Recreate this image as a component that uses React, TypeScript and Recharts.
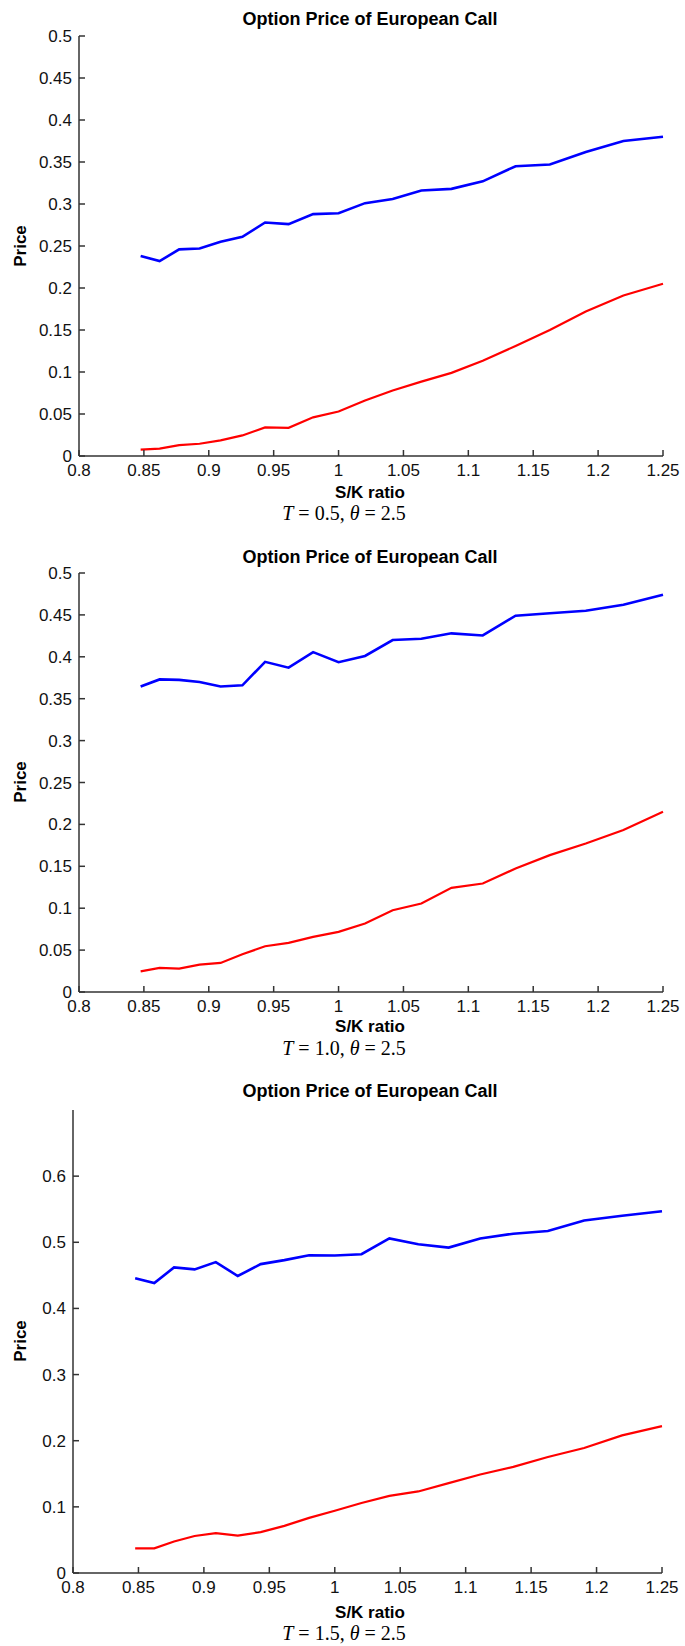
import { LineChart, Line, XAxis, YAxis } from 'recharts'

// S/K ratios (S = 100, K = 118 ... 80)
const skRatio = [
  0.8475, 0.8621, 0.8772, 0.8929, 0.9091, 0.9259, 0.9434, 0.9615, 0.9804, 1.0,
  1.0204, 1.0417, 1.0638, 1.087, 1.1111, 1.1364, 1.1628, 1.1905, 1.2195, 1.25,
]

const xTicks = [0.8, 0.85, 0.9, 0.95, 1, 1.05, 1.1, 1.15, 1.2, 1.25]
const yTicksHalf = [0, 0.05, 0.1, 0.15, 0.2, 0.25, 0.3, 0.35, 0.4, 0.45, 0.5]
const yTicksTenth = [0, 0.1, 0.2, 0.3, 0.4, 0.5, 0.6]

// T = 0.5
const blueT05 = [
  0.238, 0.232, 0.246, 0.247, 0.255, 0.261, 0.278, 0.276, 0.288, 0.289,
  0.301, 0.306, 0.316, 0.318, 0.327, 0.345, 0.347, 0.362, 0.375, 0.38,
]
const redT05 = [
  0.0075, 0.0087, 0.013, 0.0146, 0.0186, 0.0245, 0.034, 0.0336, 0.046, 0.053,
  0.066, 0.078, 0.0886, 0.099, 0.1135, 0.131, 0.15, 0.172, 0.191, 0.205,
]

// T = 1.0
const blueT10 = [
  0.3645, 0.373, 0.3725, 0.37, 0.3645, 0.366, 0.394, 0.387, 0.4056, 0.3936,
  0.401, 0.42, 0.4215, 0.428, 0.4255, 0.449, 0.452, 0.455, 0.462, 0.474,
]
const redT10 = [
  0.0247, 0.0287, 0.0279, 0.0327, 0.0347, 0.045, 0.0546, 0.0586, 0.0657, 0.0717,
  0.0817, 0.0976, 0.1056, 0.1243, 0.1295, 0.1474, 0.1633, 0.1773, 0.1932, 0.2151,
]

// T = 1.5
const blueT15 = [
  0.4455, 0.4384, 0.462, 0.459, 0.47, 0.449, 0.467, 0.473, 0.4805, 0.48,
  0.482, 0.5058, 0.497, 0.492, 0.5058, 0.513, 0.517, 0.533, 0.54, 0.547,
]
const redT15 = [
  0.0373, 0.0373, 0.0477, 0.0559, 0.0603, 0.0564, 0.0619, 0.0712, 0.0833, 0.0942,
  0.1058, 0.1167, 0.1233, 0.1359, 0.149, 0.1605, 0.1753, 0.189, 0.208, 0.222,
]

const AXIS = '#333333'
const SANS = '"Liberation Sans", Arial, sans-serif'
const SERIF = '"Liberation Serif", "Times New Roman", serif'

const XTick = (props: any) => {
  const { x, y, payload } = props
  return (
    <g>
      <line x1={x} y1={y} x2={x} y2={y - 6} stroke={AXIS} strokeWidth={1.5} />
      <text x={x} y={y + 20} textAnchor="middle" fontFamily={SANS} fontSize={17} fill="#111">
        {payload.value}
      </text>
    </g>
  )
}

const YTick = (props: any) => {
  const { x, y, payload } = props
  return (
    <g>
      <line x1={x} y1={y} x2={x + 6} y2={y} stroke={AXIS} strokeWidth={1.5} />
      <text x={x - 7} y={y + 6} textAnchor="end" fontFamily={SANS} fontSize={17} fill="#111">
        {payload.value}
      </text>
    </g>
  )
}

interface PanelProps {
  top: number
  height: number
  plotTop: number
  plotBottom: number
  plotLeft: number
  plotRight: number
  yMax: number
  yTicks: number[]
  blue: number[]
  red: number[]
}

function Panel({ top, height, plotTop, plotBottom, plotLeft, plotRight, yMax, yTicks, blue, red }: PanelProps) {
  const data = skRatio.map((sk, i) => ({ sk, blue: blue[i], red: red[i] }))
  const xh = 30
  return (
    <div style={{ position: 'absolute', left: 0, top, width: 685, height }}>
      <LineChart
        width={685}
        height={height}
        data={data}
        margin={{ top: plotTop, right: 685 - plotRight, left: 0, bottom: height - plotBottom - xh }}
      >
        <XAxis
          dataKey="sk"
          type="number"
          domain={[0.8, 1.25]}
          ticks={xTicks}
          interval={0}
          height={xh}
          tickSize={0}
          tickMargin={0}
          tickLine={false}
          tick={<XTick />}
          axisLine={{ stroke: AXIS, strokeWidth: 1.5 }}
        />
        <YAxis
          type="number"
          domain={[0, yMax]}
          ticks={yTicks}
          interval={0}
          width={plotLeft}
          tickSize={0}
          tickMargin={0}
          tickLine={false}
          tick={<YTick />}
          axisLine={{ stroke: AXIS, strokeWidth: 1.5 }}
        />
        <Line type="linear" dataKey="blue" stroke="#0000ff" strokeWidth={2.6} dot={false} isAnimationActive={false} />
        <Line type="linear" dataKey="red" stroke="#ff0000" strokeWidth={2.2} dot={false} isAnimationActive={false} />
      </LineChart>
    </div>
  )
}

interface TextsProps {
  titleY: number
  priceY: number
  xLabelY: number
  captionY: number
  tValue: string
}

function Texts({ titleY, priceY, xLabelY, captionY, tValue }: TextsProps) {
  return (
    <g>
      <text x={370} y={titleY} textAnchor="middle" fontFamily={SANS} fontWeight="bold" fontSize={18} fill="#000">
        Option Price of European Call
      </text>
      <text
        x={26}
        y={priceY}
        textAnchor="middle"
        fontFamily={SANS}
        fontWeight="bold"
        fontSize={17}
        fill="#000"
        transform={`rotate(-90 26 ${priceY})`}
      >
        Price
      </text>
      <text x={370} y={xLabelY} textAnchor="middle" fontFamily={SANS} fontWeight="bold" fontSize={17} fill="#000">
        S/K ratio
      </text>
      <text x={344} y={captionY} textAnchor="middle" fontFamily={SERIF} fontSize={20} fill="#000">
        <tspan fontStyle="italic">T</tspan>
        {` = ${tValue}, `}
        <tspan fontStyle="italic">θ</tspan>
        {' = 2.5'}
      </text>
    </g>
  )
}

export default function App() {
  return (
    <div style={{ position: 'absolute', left: 0, top: 0, width: 685, height: 1646, background: '#fff' }}>
      <Panel top={0} height={530} plotTop={36} plotBottom={456} plotLeft={79} plotRight={663} yMax={0.5} yTicks={yTicksHalf} blue={blueT05} red={redT05} />
      <Panel top={530} height={530} plotTop={43} plotBottom={462} plotLeft={79} plotRight={663} yMax={0.5} yTicks={yTicksHalf} blue={blueT10} red={redT10} />
      <Panel top={1060} height={586} plotTop={50} plotBottom={513} plotLeft={73} plotRight={662} yMax={0.7} yTicks={yTicksTenth} blue={blueT15} red={redT15} />
      <svg
        width={685}
        height={1646}
        style={{ position: 'absolute', left: 0, top: 0, pointerEvents: 'none' }}
      >
        <Texts titleY={25} priceY={246} xLabelY={498} captionY={520} tValue="0.5" />
        <Texts titleY={563} priceY={782} xLabelY={1032} captionY={1055} tValue="1.0" />
        <Texts titleY={1097} priceY={1341} xLabelY={1618} captionY={1640} tValue="1.5" />
      </svg>
    </div>
  )
}
